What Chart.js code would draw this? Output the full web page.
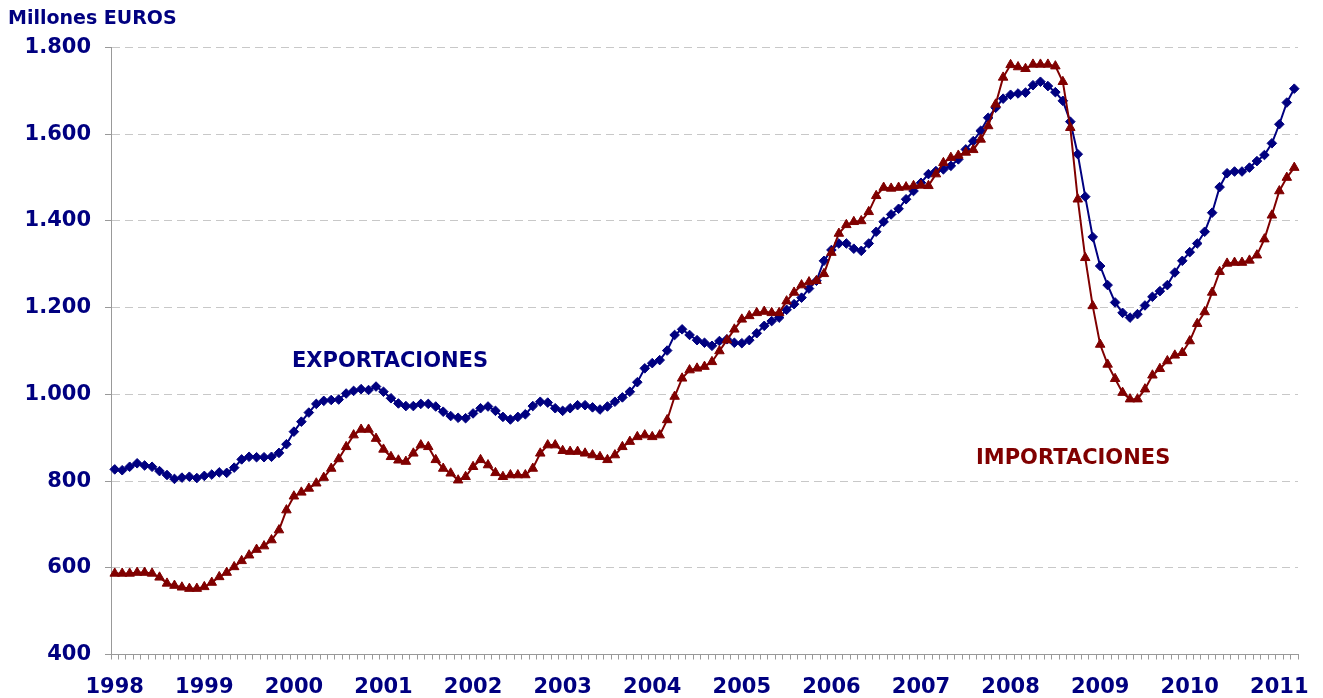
<!DOCTYPE html>
<html>
<head>
<meta charset="utf-8">
<script src="https://cdn.jsdelivr.net/npm/chart.js@4/dist/chart.umd.min.js"></script>
<style>
  html, body { margin: 0; padding: 0; background: #fff; }
  #wrap { width: 1323px; height: 698px; position: relative; }
</style>
</head>
<body>
<div id="wrap"><canvas id="chart" width="1323" height="698"></canvas></div>
<script>
// años del eje X (una etiqueta cada enero)
const years = ['1998', '1999', '2000', '2001', '2002', '2003', '2004',
  '2005', '2006', '2007', '2008', '2009', '2010', '2011'];
const monthCount = 159; // ene 1998 - mar 2011

// millones de euros, medias móviles mensuales
const exportaciones = [
  827, 825, 833, 841, 836, 833, 823, 814, 805, 808, 810, 807,
  812, 815, 820, 819, 831, 850, 856, 855, 855, 856, 865, 885,
  914, 937, 958, 978, 985, 987, 988, 1002, 1008, 1012, 1010, 1018,
  1006, 991, 979, 973, 973, 978, 978, 972, 960, 950, 946, 945,
  956, 968, 972, 962, 948, 942, 948, 954, 973, 983, 981, 968,
  962, 968, 975, 975, 970, 965, 972, 983, 993, 1006, 1028, 1060,
  1072, 1079, 1101, 1137, 1150, 1137, 1125, 1119, 1112, 1123, 1127, 1119,
  1118, 1125, 1141, 1158, 1169, 1177, 1195, 1208, 1223, 1244, 1262, 1308,
  1333, 1348, 1348, 1336, 1331, 1348, 1375, 1398, 1415, 1428, 1450, 1469,
  1488, 1508, 1515, 1519, 1527, 1542, 1565, 1584, 1608, 1638, 1661, 1682,
  1691, 1694, 1696, 1713, 1721, 1711, 1697, 1677, 1629, 1554, 1456, 1363,
  1296, 1252, 1212, 1188, 1177, 1185, 1205, 1225, 1238, 1252, 1281, 1308,
  1328, 1348, 1375, 1419, 1478, 1510, 1514, 1514, 1523, 1538, 1552, 1579,
  1623, 1673, 1705
];

const importaciones = [
  587, 587, 587, 589, 589, 587, 578, 564, 559, 555, 552, 552,
  556, 566, 579, 589, 602, 616, 629, 642, 650, 664, 687, 733,
  765, 774, 783, 795, 808, 829, 851, 879, 906, 919, 919, 898,
  873, 856, 848, 845, 864, 883, 879, 849, 829, 818, 802, 810,
  833, 849, 837, 819, 810, 814, 814, 814, 829, 864, 883, 883,
  870, 868, 868, 864, 860, 856, 849, 860, 879, 891, 902, 906,
  902, 906, 941, 995, 1037, 1056, 1060, 1064, 1075, 1100, 1125, 1150,
  1173, 1181, 1188, 1191, 1188, 1188, 1215, 1235, 1252, 1259, 1262, 1278,
  1327, 1371, 1391, 1398, 1400, 1421, 1458, 1477, 1475, 1477, 1478, 1481,
  1482, 1481, 1508, 1534, 1546, 1551, 1558, 1564, 1588, 1619, 1669, 1731,
  1760, 1755, 1751, 1761, 1761, 1761, 1757, 1721, 1615, 1450, 1315, 1204,
  1115, 1069, 1036, 1004, 989, 989, 1012, 1044, 1059, 1077, 1090, 1096,
  1123, 1163, 1190, 1235, 1283, 1302, 1304, 1304, 1309, 1321, 1358, 1413,
  1469, 1500, 1523
];

const NAVY = '#000080';
const GRANATE = '#800000';
const FONT = "'DejaVu Sans', Verdana, sans-serif";

const labels = [];
for (let i = 0; i < monthCount; i++) {
  labels.push(years[Math.floor(i / 12)] + '-' + String(i % 12 + 1).padStart(2, '0'));
}

function miles(v) {
  return String(v).replace(/\B(?=(\d{3})+$)/g, '.');
}

// textos sueltos: unidad y nombres de las series
const textos = {
  id: 'textos',
  afterDraw(chart) {
    const ctx = chart.ctx;
    ctx.save();
    ctx.textBaseline = 'middle';
    ctx.textAlign = 'left';
    ctx.font = 'bold 19px ' + FONT;
    ctx.fillStyle = NAVY;
    ctx.fillText('Millones EUROS', 8, 19);
    ctx.font = 'bold 21px ' + FONT;
    ctx.fillText('EXPORTACIONES', 292, 362);
    ctx.fillStyle = GRANATE;
    ctx.fillText('IMPORTACIONES', 976, 459);
    ctx.restore();
  }
};

new Chart(document.getElementById('chart'), {
  type: 'line',
  data: {
    labels: labels,
    datasets: [
      {
        label: 'EXPORTACIONES',
        data: exportaciones,
        borderColor: NAVY,
        backgroundColor: NAVY,
        borderWidth: 2,
        pointStyle: 'rectRot',
        pointRadius: 4.8,
        pointBorderWidth: 1,
        tension: 0,
        order: 2,
      },
      {
        label: 'IMPORTACIONES',
        data: importaciones,
        borderColor: GRANATE,
        backgroundColor: GRANATE,
        borderWidth: 2,
        pointStyle: 'triangle',
        pointRadius: 5.5,
        pointBorderWidth: 1,
        tension: 0,
        order: 1,
      },
    ],
  },
  options: {
    responsive: false,
    animation: false,
    devicePixelRatio: 1,
    layout: { padding: { top: 47.5, right: 25, left: 0, bottom: 0 } },
    plugins: {
      legend: { display: false },
      tooltip: { enabled: false },
    },
    scales: {
      x: {
        offset: true,
        afterFit: s => { s.height = 43.5; },
        grid: {
          offset: true,
          drawOnChartArea: false,
          drawTicks: true,
          tickLength: 5,
          tickColor: '#999',
        },
        border: { color: '#999', width: 1 },
        ticks: {
          autoSkip: false,
          minRotation: 0,
          maxRotation: 0,
          padding: 15,
          color: NAVY,
          font: { family: FONT, size: 21, weight: 'bold' },
          callback: (v, i) => (i % 12 === 0 ? years[i / 12] : ''),
        },
      },
      y: {
        min: 400,
        max: 1800,
        afterFit: s => { s.width = 111; },
        grid: {
          color: '#c8c8c8',
          tickLength: 6,
          tickColor: '#999',
          tickBorderDash: [],
        },
        border: { color: '#999', width: 1, dash: [8, 5] },
        ticks: {
          stepSize: 200,
          padding: 14,
          color: NAVY,
          font: { family: FONT, size: 21, weight: 'bold' },
          callback: v => miles(v),
        },
      },
    },
  },
  plugins: [textos],
});
</script>
</body>
</html>
